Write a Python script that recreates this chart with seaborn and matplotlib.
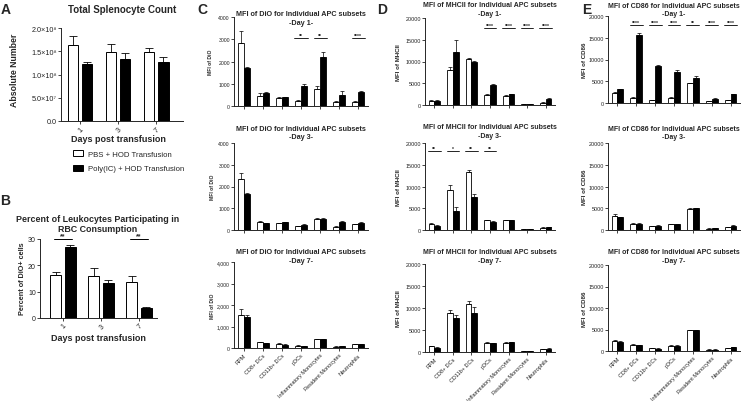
import numpy as np
import pandas as pd
import matplotlib
matplotlib.use("Agg")
import matplotlib.pyplot as plt
from matplotlib.patches import Patch
import seaborn as sns

# ---------------- data ----------------
groups = ["PBS + HOD Transfusion", "Poly(IC) + HOD Transfusion"]
days = ["1", "3", "7"]
subsets = ["RPM", "CD8+ DCs", "CD11b+ DCs", "pDCs", "Inflammatory Monocytes",
           "Resident Monocytes", "Neutrophils"]

# A: total splenocyte count
count_pbs = [1.63e8, 1.48e8, 1.48e8]
count_pbs_err = [0.20e8, 0.17e8, 0.10e8]
count_poly = [1.22e8, 1.33e8, 1.27e8]
count_poly_err = [0.05e8, 0.14e8, 0.11e8]
count_ticklabels = ["0.0", "5.0×10⁷", "1.0×10⁸", "1.5×10⁸", "2.0×10⁸"]

# B: percent DiO+ cells
pct_pbs = [16.4, 15.9, 13.6]
pct_pbs_err = [1.0, 3.0, 2.3]
pct_poly = [26.8, 13.3, 3.8]
pct_poly_err = [1.0, 1.2, 0.4]
pct_sig = ["**", "", "**"]

# C: MFI of DiO
dio_d1_pbs = [2810, 440, 345, 210, 770, 165, 165]
dio_d1_pbs_err = [570, 135, 75, 60, 120, 60, 45]
dio_d1_poly = [1690, 600, 390, 900, 2210, 480, 630]
dio_d1_poly_err = [50, 30, 30, 80, 210, 210, 30]
dio_d1_sig = ["", "", "", "**", "**", "", "****"]

dio_d3_pbs = [2330, 385, 305, 170, 505, 140, 260]
dio_d3_pbs_err = [290, 30, 30, 30, 30, 30, 30]
dio_d3_poly = [1640, 305, 350, 230, 505, 385, 335]
dio_d3_poly_err = [75, 30, 30, 30, 30, 30, 45]

dio_d7_pbs = [1520, 265, 185, 110, 405, 60, 170]
dio_d7_pbs_err = [310, 30, 30, 30, 30, 15, 30]
dio_d7_poly = [1440, 215, 140, 80, 405, 95, 170]
dio_d7_poly_err = [110, 30, 30, 15, 30, 15, 30]

# D: MFI of MHCII
mhc_d1_pbs = [920, 8120, 10580, 2220, 2150, 230, 460]
mhc_d1_pbs_err = [150, 610, 150, 230, 150, 80, 150]
mhc_d1_poly = [1000, 12100, 9800, 4600, 2450, 230, 1380]
mhc_d1_poly_err = [150, 2900, 310, 230, 150, 80, 150]
mhc_d1_sig = ["", "", "", "****", "****", "****", "****"]

mhc_d3_pbs = [1390, 9190, 13440, 2240, 2240, 150, 540]
mhc_d3_pbs_err = [150, 1160, 310, 150, 150, 80, 80]
mhc_d3_poly = [930, 4480, 7640, 1850, 2240, 150, 620]
mhc_d3_poly_err = [150, 850, 620, 150, 150, 80, 150]
mhc_d3_sig = ["**", "*", "**", "**", "", "", ""]

mhc_d7_pbs = [1280, 8850, 10980, 2130, 2130, 170, 680]
mhc_d7_pbs_err = [170, 600, 680, 170, 170, 85, 85]
mhc_d7_poly = [1020, 7660, 8940, 1960, 2210, 170, 680]
mhc_d7_poly_err = [170, 770, 1190, 170, 170, 85, 170]

# E: MFI of CD86
cd86_d1_pbs = [2280, 1220, 610, 1220, 4560, 460, 610]
cd86_d1_pbs_err = [230, 150, 150, 150, 150, 80, 80]
cd86_d1_poly = [3120, 15590, 8590, 7070, 5860, 910, 1980]
cd86_d1_poly_err = [150, 610, 150, 610, 300, 150, 150]
cd86_d1_sig = ["", "****", "****", "****", "**", "****", "****"]

cd86_d3_pbs = [3240, 1470, 850, 1310, 4870, 310, 700]
cd86_d3_pbs_err = [390, 150, 80, 150, 150, 80, 80]
cd86_d3_poly = [2930, 1390, 1000, 1310, 5020, 390, 930]
cd86_d3_poly_err = [150, 150, 80, 150, 150, 80, 150]

cd86_d7_pbs = [2390, 1390, 620, 1230, 4770, 310, 690]
cd86_d7_pbs_err = [150, 150, 150, 150, 150, 80, 80]
cd86_d7_poly = [2150, 1310, 540, 1230, 4770, 310, 850]
cd86_d7_poly_err = [150, 150, 150, 150, 150, 80, 150]

# ---------------- figure ----------------
sns.set_style("ticks")
plt.rcParams["font.family"] = ["Liberation Sans", "DejaVu Sans"]
plt.rcParams["axes.linewidth"] = 0.7

W, H = 743, 402
fig = plt.figure(figsize=(W / 100, H / 100), dpi=100)


def add_ax(l, t, r, b):
    return fig.add_axes([l / W, 1 - b / H, (r - l) / W, (b - t) / H])


def ftext(x, y, s, **kw):
    fig.text(x / W, 1 - y / H, s, **kw)


def bars(ax, cats, pbs, pbs_err, poly, poly_err, width, gap, capsize, lw=0.7):
    df = pd.DataFrame({
        "cat": list(cats) * 2,
        "group": [groups[0]] * len(cats) + [groups[1]] * len(cats),
        "value": list(pbs) + list(poly),
    })
    sns.barplot(data=df, x="cat", y="value", hue="group", order=cats, hue_order=groups,
                palette={groups[0]: "white", groups[1]: "black"}, edgecolor="black",
                linewidth=lw, errorbar=None, width=width, gap=gap, saturation=1,
                legend=False, ax=ax)
    conts = list(ax.containers)
    for cont, err in zip(conts, [pbs_err, poly_err]):
        xs = [b.get_x() + b.get_width() / 2 for b in cont]
        ys = [b.get_height() for b in cont]
        ax.errorbar(xs, ys, yerr=[np.zeros(len(err)), err], fmt="none", ecolor="black",
                    elinewidth=lw * 0.85, capsize=capsize, capthick=lw * 0.85, zorder=3)


def style(ax, ymax, ticks, ticklabels, fs, xlim):
    sns.despine(ax=ax)
    ax.set_xlim(*xlim)
    ax.set_ylim(0, ymax)
    ax.set_yticks(ticks)
    ax.set_yticklabels(ticklabels)
    ax.set_xlabel("")
    ax.set_ylabel("")
    ax.tick_params(axis="both", length=2, width=0.6, labelsize=fs, pad=1,
                   colors="#222222")
    ax.spines["left"].set_linewidth(0.7)
    ax.spines["bottom"].set_linewidth(0.7)


def sig(ax, labels, y, half, fs, lw=0.7):
    for i, s in enumerate(labels):
        if s:
            ax.plot([i - half, i + half], [y, y], color="black", lw=lw, clip_on=False)
            ax.text(i, y, s, ha="center", va="bottom", fontsize=fs, clip_on=False,
                    fontweight="bold")


# ---- Panel A ----
axA = add_ax(61, 29, 183, 122)
bars(axA, days, count_pbs, count_pbs_err, count_poly, count_poly_err, 0.74, 0.26, 3)
style(axA, 2.0e8, np.linspace(0, 2.0e8, 5), count_ticklabels, 5.2, (-0.5, 2.7))
axA.set_xticks(range(3))
axA.set_xticklabels(days, rotation=45, ha="right", rotation_mode="anchor")
ftext(122, 10, "Total Splenocyte Count", ha="center", va="center", fontsize=7,
      fontweight="bold")
ftext(15, 70, "Absolute Number", rotation=90, ha="center", va="center", fontsize=6.3,
      fontweight="bold")
ftext(118, 140, "Days post transfusion", ha="center", va="center", fontsize=6.5,
      fontweight="bold")
fig.legend(handles=[Patch(facecolor="white", edgecolor="black", lw=0.7),
                    Patch(facecolor="black", edgecolor="black", lw=0.7)],
           labels=groups, loc="upper left", bbox_to_anchor=(73 / W, 1 - 151 / H),
           frameon=False, fontsize=5.6, handlelength=1.3, handleheight=0.9,
           handletextpad=0.6, labelspacing=0.85, borderpad=0, borderaxespad=0)

# ---- Panel B ----
axB = add_ax(40, 240, 157, 319)
bars(axB, days, pct_pbs, pct_pbs_err, pct_poly, pct_poly_err, 0.76, 0.25, 3)
style(axB, 30, [0, 10, 20, 30], ["0", "10", "20", "30"], 5, (-0.6, 2.47))
axB.set_xticks(range(3))
axB.set_xticklabels(days, rotation=45, ha="right", rotation_mode="anchor")
sig(axB, pct_sig, 30, 0.24, 5)
ftext(98, 224.5, "Percent of Leukocytes Participating in\nRBC Consumption", ha="center",
      va="center", fontsize=6.4, fontweight="bold", linespacing=1.15)
ftext(23, 279, "Percent of DiO+ cells", rotation=90, ha="center", va="center",
      fontsize=5.2, fontweight="bold")
ftext(98, 339, "Days post transfusion", ha="center", va="center", fontsize=6.5,
      fontweight="bold")

# ---- Panels C, D, E ----
panels = [
    dict(title="MFI of DiO for Individual APC subsets", ylabel="MFI of DiO",
         x=(234, 368), ylab_x=[210, 213, 212], ylab_fs=3.6, tfs=5.2, tick_fs=3.7,
         rows=[(18, 107), (144, 231), (263, 349)], title_y=[19, 133.5, 257],
         ymax=4000, step=1000,
         fmt=["{:d}", "{:d}", "{:,d}"],
         data=[(dio_d1_pbs, dio_d1_pbs_err, dio_d1_poly, dio_d1_poly_err, dio_d1_sig, 3050),
               (dio_d3_pbs, dio_d3_pbs_err, dio_d3_poly, dio_d3_poly_err, None, 0),
               (dio_d7_pbs, dio_d7_pbs_err, dio_d7_poly, dio_d7_poly_err, None, 0)]),
    dict(title="MFI of MHCII for Individual APC subsets", ylabel="MFI of MHCII",
         x=(425, 555), ylab_x=[399, 399, 398], ylab_fs=4.4, tfs=5.0, tick_fs=3.9,
         rows=[(19, 106), (144, 231), (265, 353)], title_y=[10, 132, 257],
         ymax=20000, step=5000,
         fmt=["{:d}", "{:d}", "{:d}"],
         data=[(mhc_d1_pbs, mhc_d1_pbs_err, mhc_d1_poly, mhc_d1_poly_err, mhc_d1_sig, 17800),
               (mhc_d3_pbs, mhc_d3_pbs_err, mhc_d3_poly, mhc_d3_poly_err, mhc_d3_sig, 18100),
               (mhc_d7_pbs, mhc_d7_pbs_err, mhc_d7_poly, mhc_d7_poly_err, None, 0)]),
    dict(title="MFI of CD86 for Individual APC subsets", ylabel="MFI of CD86",
         x=(608, 740), ylab_x=[585, 585, 585], ylab_fs=4.4, tfs=5.0, tick_fs=3.9,
         rows=[(17, 104), (144, 231), (266, 352)], title_y=[10.5, 133.5, 257],
         ymax=20000, step=5000,
         fmt=["{:d}", "{:d}", "{:d}"],
         data=[(cd86_d1_pbs, cd86_d1_pbs_err, cd86_d1_poly, cd86_d1_poly_err, cd86_d1_sig, 17900),
               (cd86_d3_pbs, cd86_d3_pbs_err, cd86_d3_poly, cd86_d3_poly_err, None, 0),
               (cd86_d7_pbs, cd86_d7_pbs_err, cd86_d7_poly, cd86_d7_poly_err, None, 0)]),
]

for p in panels:
    l, r = p["x"]
    for k, ((t, b), (pbs, pbs_e, poly, poly_e, sg, sgy)) in enumerate(zip(p["rows"], p["data"])):
        ax = add_ax(l, t, r, b)
        bars(ax, subsets, pbs, pbs_e, poly, poly_e, 0.62, 0, 1.2, lw=0.6)
        ticks = np.arange(0, p["ymax"] + 1, p["step"])
        labs = [p["fmt"][k].format(int(v)) for v in ticks]
        style(ax, p["ymax"], ticks, labs, p["tick_fs"], (-0.5, 6.5))
        ax.set_xticks(range(len(subsets)))
        if k == 2:
            ax.set_xticklabels(subsets, rotation=45, ha="right", rotation_mode="anchor",
                               fontsize=4)
        else:
            ax.set_xticklabels([])
        if sg is not None:
            sig(ax, sg, sgy, 0.34, 3.6, lw=0.6)
        ftext((l + r) / 2, p["title_y"][k], p["title"] + "\n-Day " + days[k] + "-",
              ha="center", va="center", fontsize=p["tfs"], fontweight="bold",
              linespacing=1.3)
        ftext(p["ylab_x"][k], (t + b) / 2, p["ylabel"], rotation=90, ha="center",
              va="center", fontsize=p["ylab_fs"], fontweight="bold")

# panel letters
for letter, (x, y) in zip("ABCDE", [(6, 10), (5, 201), (202, 10), (382, 10), (587, 10)]):
    ftext(x, y, letter, ha="center", va="center", fontsize=10, fontweight="bold")

fig.savefig("out.png", dpi=100)
